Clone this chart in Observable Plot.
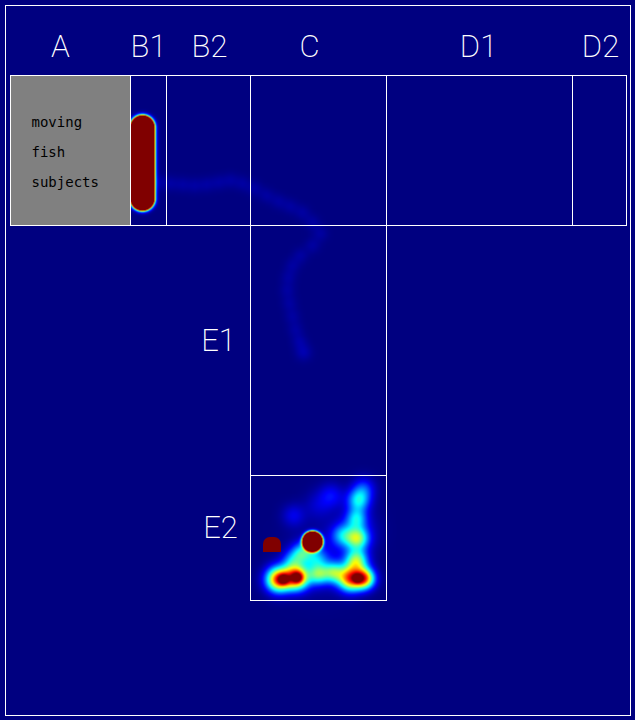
<!DOCTYPE html>
<html>
<head>
<meta charset="utf-8">
<script src="https://cdn.jsdelivr.net/npm/d3@7"></script>
<script src="https://cdn.jsdelivr.net/npm/@observablehq/plot@0.6"></script>
<style>
  html, body { margin: 0; padding: 0; background: #000080; overflow: hidden; }
</style>
</head>
<body>
<div id="chart"></div>
<script>
// ---- Arena zones (arena units = pixels of the tracking image) ----
const zoneNames = ["A", "B1", "B2", "C", "D1", "D2", "E1", "E2"];
const zoneX1 = [10, 130, 166, 250, 386, 572, 250, 250];
const zoneX2 = [130, 166, 250, 386, 572, 626, 386, 386];
const zoneY1 = [75, 75, 75, 75, 75, 75, 225, 475];
const zoneY2 = [225, 225, 225, 225, 225, 225, 475, 600];

// ---- Zone labels ----
const labelText = ["A", "B1", "B2", "C", "D1", "D2", "E1", "E2"];
const labelX = [60, 148, 209, 309, 478, 600, 218, 220];
const labelY = [47, 47, 47, 47, 47, 47, 341, 528];

// ---- Note in zone A ----
const noteText = ["moving", "fish", "subjects"];
const noteX = [31, 31, 31];
const noteY = [122, 152, 182];

// ---- Outer arena frame ----
const frameX1 = [5], frameX2 = [630], frameY1 = [5], frameY2 = [715];

// ---- Fixed object in E2 ----
const objX1 = [263], objX2 = [281], objY1 = [537], objY2 = [552];

// ---- Occupancy heat blobs: centre, spread, weight, half-length (vertical) ----
const blobX = [142,
  158, 170, 182, 194, 206, 218, 230, 242, 254, 266, 278, 290, 302, 312, 320, 312, 300, 292, 288, 287, 289, 292, 295, 299, 303,
  312,
  278, 296, 283, 297, 318, 333, 350, 364, 357,
  356, 357, 356, 358, 363, 342,
  331, 293, 318, 302, 292, 316, 320, 355];
const blobY = [162.5,
  182, 183, 184, 185, 184, 182, 180, 183, 188, 195, 201, 206, 212, 222, 233, 245, 255, 265, 277, 290, 303, 316, 329, 341, 352,
  541,
  579, 577, 579, 577, 574, 572, 578, 578, 578,
  560, 538, 518, 500, 488, 535,
  495, 515, 505, 552, 560, 558, 560, 530];
const blobS = [6,
  7.5, 7.5, 7.5, 7.5, 7.5, 7.5, 7.5, 7.5, 7.5, 7.5, 7.5, 7.5, 7.5, 7.5, 7.5, 7.5, 7.5, 7.5, 7.5, 7.5, 7.5, 7.5, 7.5, 7.5, 8,
  5,
  12, 12, 5, 5, 10, 10, 12, 10, 4,
  11, 11, 10, 11, 11, 11,
  12, 11, 14, 10, 10, 11, 30, 20];
const blobW = [50,
  .03, .03, .03, .03, .03, .03, .03, .03, .03, .03, .03, .03, .03, .03, .03, .03, .03, .03, .03, .03, .03, .03, .03, .035, .045,
  50,
  .8, .8, .35, .35, .38, .38, .75, .7, .35,
  .48, .45, .28, .34, .17, .24,
  .12, .1, .07, .32, .22, .22, .08, .1];
const blobH = [35.5];

// ---- Build tables for the library ----
const zones = zoneNames.map((n, i) => ({name: n, x1: zoneX1[i], x2: zoneX2[i], y1: zoneY1[i], y2: zoneY2[i]}));
const labels = labelText.map((t, i) => ({t, x: labelX[i], y: labelY[i]}));
const notes = noteText.map((t, i) => ({t, x: noteX[i], y: noteY[i]}));
const blobs = blobX.map((x, i) => ({x, y: blobY[i], s: blobS[i], w: blobW[i], h: blobH[i] || 0}));

// Kernel-sum interpolation of the blobs onto the raster grid
function heat(index, w, h, X, Y, V) {
  const out = new Float64Array(w * h);
  for (const i of index) {
    const b = blobs[i];
    const cx = X[i], cy = Y[i], s = b.s, wt = V[i], hl = b.h;
    const R = s * Math.sqrt(Math.log(Math.max(wt, 0.003) / 0.002));
    const x0 = Math.max(0, Math.floor(cx - R)), xe = Math.min(w - 1, Math.ceil(cx + R));
    const y0 = Math.max(0, Math.floor(cy - hl - R)), ye = Math.min(h - 1, Math.ceil(cy + hl + R));
    const s2 = s * s;
    for (let py = y0; py <= ye; ++py) {
      let dy = Math.abs(py + 0.5 - cy) - hl;
      if (dy < 0) dy = 0;
      for (let px = x0; px <= xe; ++px) {
        const dx = px + 0.5 - cx;
        out[py * w + px] += wt * Math.exp(-(dx * dx + dy * dy) / s2);
      }
    }
  }
  return out;
}

const chart = Plot.plot({
  width: 635,
  height: 720,
  margin: 0,
  style: {background: "#000080", overflow: "visible"},
  x: {domain: [0, 635], range: [0, 635], axis: null},
  y: {domain: [0, 720], range: [0, 720], axis: null},
  color: {
    type: "linear",
    domain: [0, 0.125, 0.375, 0.625, 0.875, 1],
    range: ["#000080", "#0000ff", "#00ffff", "#ffff00", "#ff0000", "#800000"],
    interpolate: "rgb",
    clamp: true
  },
  marks: [
    Plot.raster(blobs, {x: "x", y: "y", fill: "w", x1: 0, y1: 0, x2: 635, y2: 720, pixelSize: 1, interpolate: heat}),
    Plot.rect(zones.filter(d => d.name === "A"), {x1: "x1", x2: "x2", y1: "y1", y2: "y2", fill: "#808080"}),
    Plot.rect(objX1.map((x, i) => ({x1: x, x2: objX2[i], y1: objY1[i], y2: objY2[i]})), {x1: "x1", x2: "x2", y1: "y1", y2: "y2", fill: "#800000", rx: 7}),
    Plot.rect(objX1.map((x, i) => ({x1: x, x2: objX2[i], y1: (objY1[i] + objY2[i]) / 2, y2: objY2[i]})), {x1: "x1", x2: "x2", y1: "y1", y2: "y2", fill: "#800000"}),
    Plot.rect(zones, {x1: "x1", x2: "x2", y1: "y1", y2: "y2", fill: "none", stroke: "white", strokeWidth: 1, shapeRendering: "crispEdges"}),
    Plot.rect(frameX1.map((x, i) => ({x1: x, x2: frameX2[i], y1: frameY1[i], y2: frameY2[i]})), {x1: "x1", x2: "x2", y1: "y1", y2: "y2", fill: "none", stroke: "white", strokeWidth: 1, shapeRendering: "crispEdges"}),
    Plot.text(labels, {x: "x", y: "y", text: "t", fill: "white", fontSize: 31, fontFamily: "Roboto", fontWeight: 200}),
    Plot.text(notes, {x: "x", y: "y", text: "t", fill: "black", fontSize: 14, fontFamily: "DejaVu Sans Mono", textAnchor: "start"})
  ]
});
document.getElementById("chart").appendChild(chart);
</script>
</body>
</html>
